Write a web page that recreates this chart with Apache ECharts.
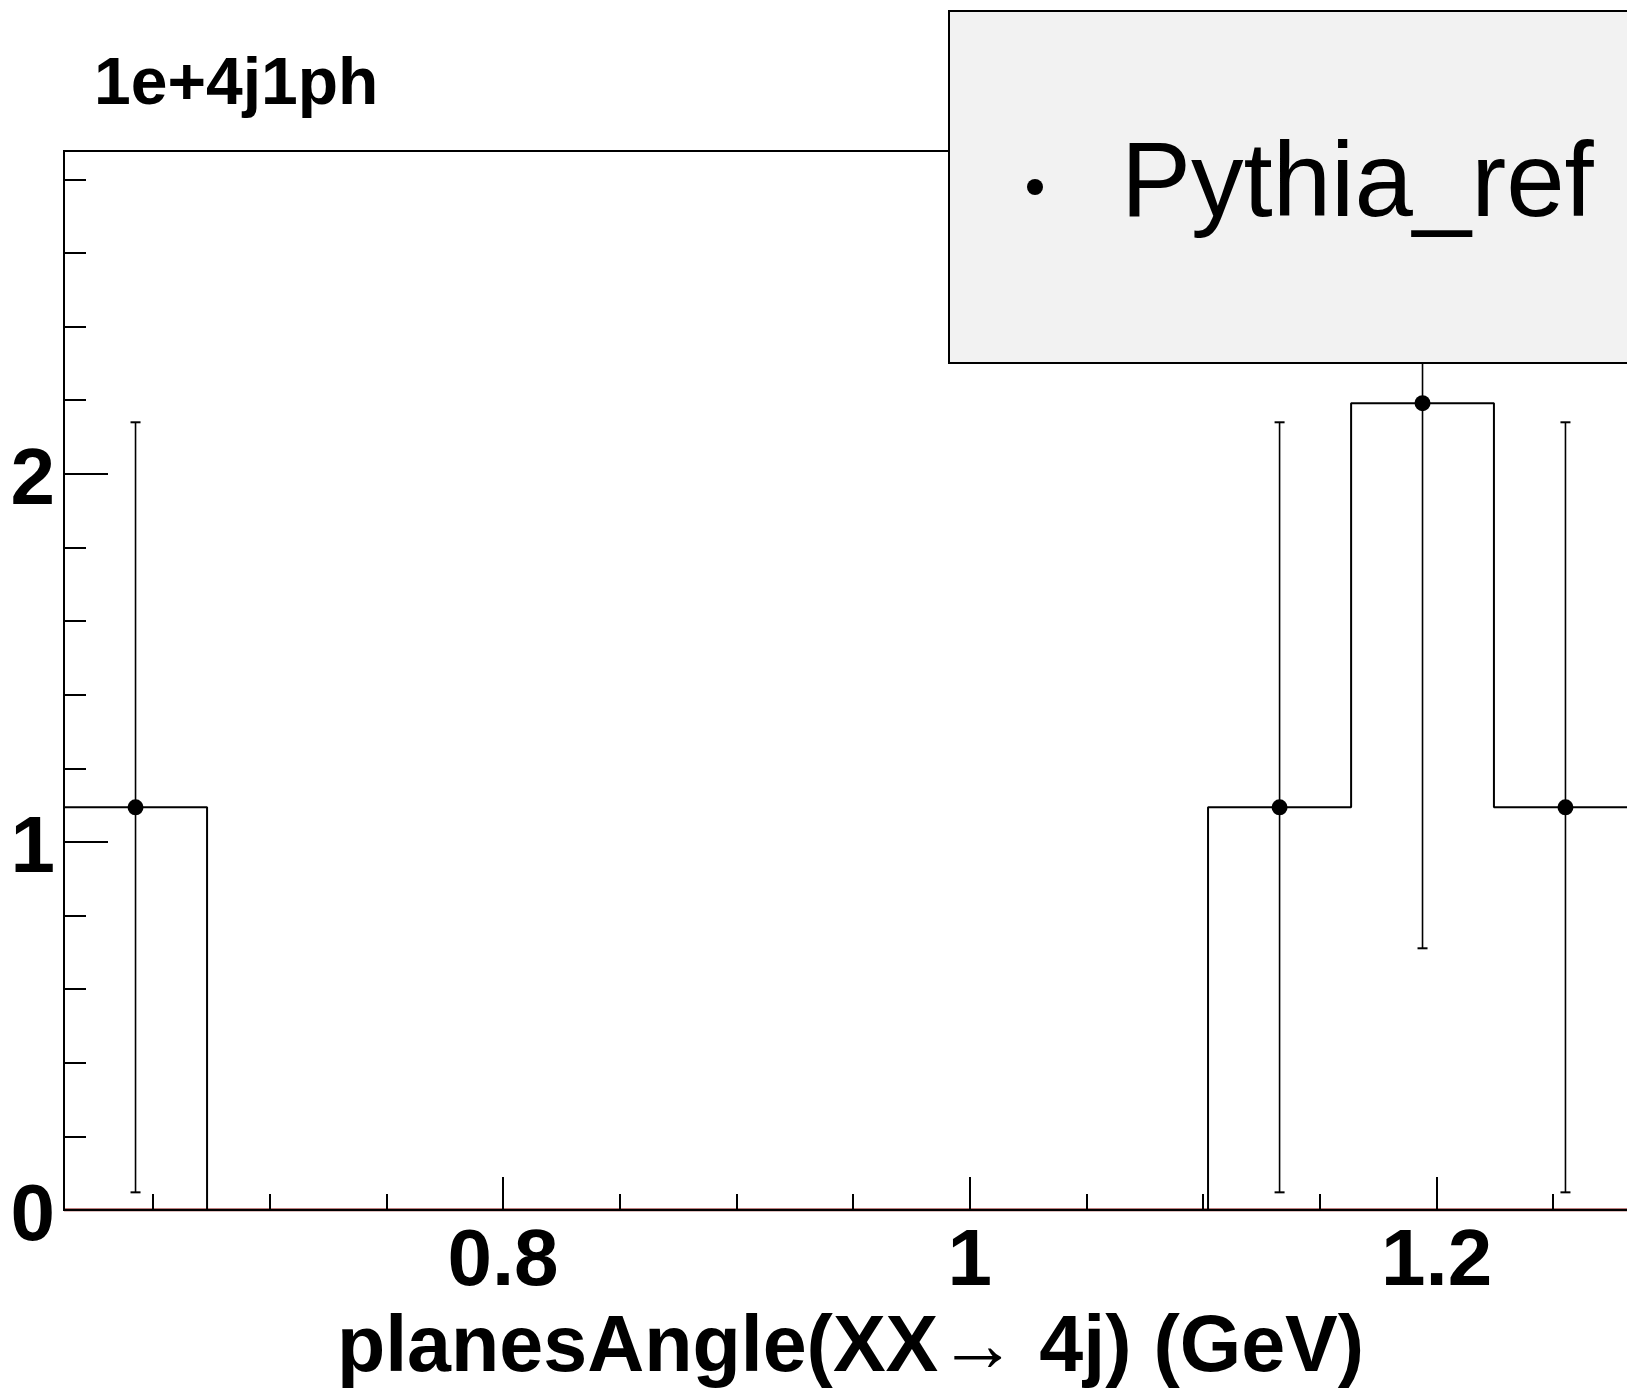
<!DOCTYPE html>
<html>
<head>
<meta charset="utf-8">
<script src="https://cdn.jsdelivr.net/npm/echarts@6/dist/echarts.min.js"></script>
<style>
  html, body { margin: 0; padding: 0; background: #ffffff; overflow: hidden; }
  #chart { width: 1800px; height: 1395px; }
</style>
</head>
<body>
<div id="chart"></div>
<script>
// ---- data ----
const binEdges = [0.6119, 0.6732, 0.7344, 0.7957, 0.8570, 0.9183, 0.9795, 1.0408, 1.1021, 1.1634, 1.2246, 1.2859];
const binValues = [1.094, 0, 0, 0, 0, 0, 0, 0, 1.094, 2.192, 1.094];
const binErrors = [1.046, 0, 0, 0, 0, 0, 0, 0, 1.046, 1.481, 1.046];
const refValues = [0, 0, 0, 0, 0, 0, 0, 0, 0, 0, 0];
const seriesName = 'Pythia_ref';
const topLabel = '1e+4j1ph';
const xTitle = 'planesAngle(XX\u2192 4j) (GeV)';
const xMin = 0.6119, xMax = 1.2859;
const yMin = 0, yMax = 2.877;

// ---- derived structures ----
const stepData = [[binEdges[0], 0]];
binValues.forEach((v, i) => stepData.push([binEdges[i], v]));
stepData.push([binEdges[binEdges.length - 1], binValues[binValues.length - 1]]);
stepData.push([binEdges[binEdges.length - 1], 0]);

const refData = [];
refValues.forEach((v, i) => refData.push([binEdges[i], v]));
refData.push([binEdges[binEdges.length - 1], refValues[refValues.length - 1]]);

const pointData = [];
const errData = [];
binValues.forEach((v, i) => {
  if (v > 0) {
    const c = (binEdges[i] + binEdges[i + 1]) / 2;
    pointData.push([c, v]);
    errData.push([c, v, binErrors[i]]);
  }
});

const FONT = 'Liberation Sans';
const chart = echarts.init(document.getElementById('chart'), null, { renderer: 'canvas' });

const fmt = v => String(Math.round(v * 100) / 100);

const option = {
  animation: false,
  backgroundColor: '#ffffff',
  title: {
    text: topLabel,
    left: 94,
    top: 53,
    padding: 0,
    textStyle: { fontFamily: FONT, fontWeight: 'bold', fontSize: 66, lineHeight: 66, color: '#000' }
  },
  legend: {
    left: 949,
    top: 11,
    z: 10,
    orient: 'horizontal',
    padding: [121, 120, 121, 78],
    backgroundColor: '#f2f2f2',
    borderColor: '#000',
    borderWidth: 2,
    borderRadius: 0,
    itemWidth: 16,
    itemHeight: 16,
    selectedMode: false,
    data: [{ name: seriesName, icon: 'circle', itemStyle: { color: '#000' } }],
    textStyle: { fontFamily: FONT, fontSize: 105, lineHeight: 103, color: '#000', padding: [0, 0, 7, 73] }
  },
  grid: {
    left: 64, right: 163, top: 151, bottom: 185,
    show: true, borderColor: '#000', borderWidth: 2, backgroundColor: 'transparent'
  },
  xAxis: [
    {
      type: 'value', position: 'bottom', min: xMin, max: xMax,
      minInterval: 0.2, maxInterval: 0.2, z: 3,
      axisLine: { show: true, onZero: false, lineStyle: { color: '#000', width: 2 } },
      axisTick: { show: true, inside: true, length: 33, lineStyle: { color: '#000', width: 2 } },
      axisLabel: {
        show: true, margin: 13, showMinLabel: false, showMaxLabel: false,
        fontFamily: FONT, fontWeight: 'bold', fontSize: 80, lineHeight: 80, color: '#000',
        formatter: fmt
      },
      splitLine: { show: false },
      name: xTitle, nameLocation: 'middle', nameGap: 99,
      nameTextStyle: { fontFamily: FONT, fontWeight: 'bold', fontSize: 79, lineHeight: 80, color: '#000' }
    },
    {
      type: 'value', position: 'bottom', min: xMin, max: xMax,
      minInterval: 0.05, maxInterval: 0.05, z: 3,
      axisLine: { show: false, onZero: false },
      axisTick: { show: true, inside: true, length: 16, lineStyle: { color: '#000', width: 2 } },
      axisLabel: { show: false },
      splitLine: { show: false }
    }
  ],
  yAxis: [
    {
      type: 'value', position: 'left', min: yMin, max: yMax,
      minInterval: 1, maxInterval: 1, z: 3,
      axisLine: { show: true, onZero: false, lineStyle: { color: '#000', width: 2 } },
      axisTick: { show: true, inside: true, length: 44, lineStyle: { color: '#000', width: 2 } },
      axisLabel: {
        show: true, margin: 9, showMaxLabel: false,
        fontFamily: FONT, fontWeight: 'bold', fontSize: 80, lineHeight: 16, color: '#000',
        verticalAlign: 'top',
        formatter: fmt
      },
      splitLine: { show: false }
    },
    {
      type: 'value', position: 'left', min: yMin, max: yMax,
      minInterval: 0.2, maxInterval: 0.2, z: 3,
      axisLine: { show: false, onZero: false },
      axisTick: { show: true, inside: true, length: 22, lineStyle: { color: '#000', width: 2 } },
      axisLabel: { show: false },
      splitLine: { show: false }
    }
  ],
  series: [
    {
      name: 'ref_zero', type: 'line', xAxisIndex: 0, yAxisIndex: 0,
      data: refData, step: 'end', showSymbol: false, z: 1,
      lineStyle: { color: '#800000', width: 3 }, silent: true
    },
    {
      name: 'hist', type: 'line', xAxisIndex: 0, yAxisIndex: 0,
      data: stepData, step: 'end', showSymbol: false, z: 4,
      lineStyle: { color: '#000', width: 2 }, silent: true
    },
    {
      name: 'errors', type: 'custom', xAxisIndex: 0, yAxisIndex: 0, z: 5,
      data: errData,
      renderItem: function (params, api) {
        const x = api.value(0), v = api.value(1), e = api.value(2);
        const hiV = Math.min(v + e, yMax);
        const loV = Math.max(v - e, yMin);
        const hi = api.coord([x, hiV]);
        const lo = api.coord([x, loV]);
        const style = { stroke: '#000', lineWidth: 1.6 };
        const children = [
          { type: 'line', shape: { x1: hi[0], y1: hi[1], x2: lo[0], y2: lo[1] }, style: style }
        ];
        if (v + e <= yMax) {
          children.push({ type: 'line', shape: { x1: hi[0] - 5, y1: hi[1], x2: hi[0] + 5, y2: hi[1] }, style: { stroke: '#000', lineWidth: 2 } });
        }
        if (v - e >= yMin) {
          children.push({ type: 'line', shape: { x1: lo[0] - 5, y1: lo[1], x2: lo[0] + 5, y2: lo[1] }, style: { stroke: '#000', lineWidth: 2 } });
        }
        return { type: 'group', children: children };
      },
      silent: true
    },
    {
      name: seriesName, type: 'scatter', xAxisIndex: 0, yAxisIndex: 0, z: 6,
      data: pointData, symbol: 'circle', symbolSize: 16,
      itemStyle: { color: '#000', opacity: 1 }, silent: true
    }
  ]
};
chart.setOption(option);
</script>
</body>
</html>
